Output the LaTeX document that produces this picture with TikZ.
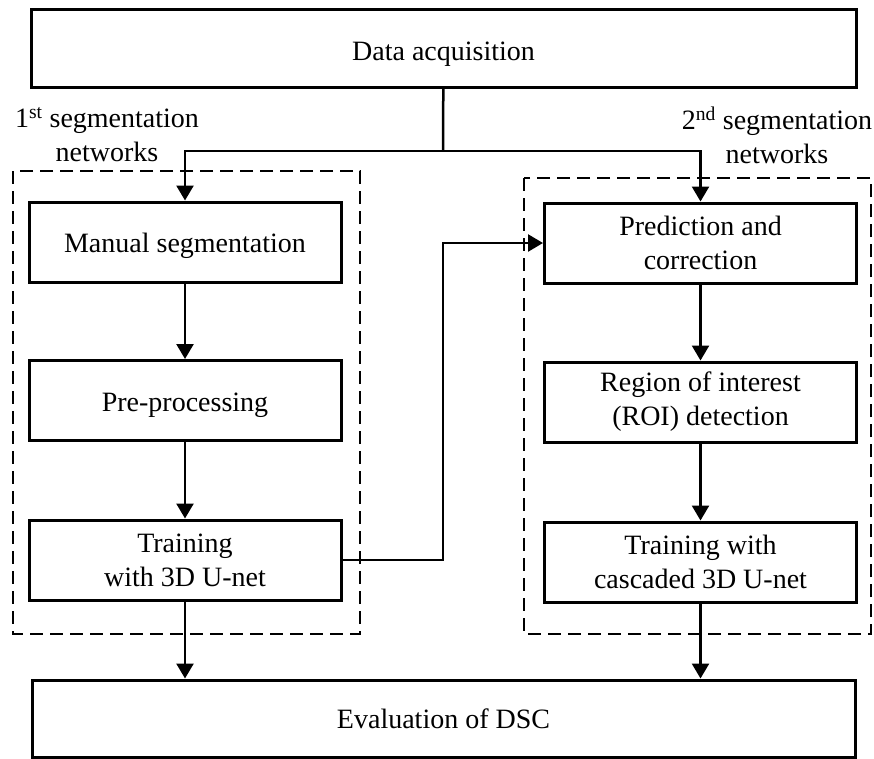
\documentclass[tikz,border=0pt]{standalone}
\usepackage{fontspec}
\setmainfont{Liberation Serif}
\usetikzlibrary{arrows.meta,positioning}

\begin{document}
\begin{tikzpicture}[x=1pt, y=-1pt, font=\fontsize{28}{34}\selectfont,
		oneline/.style={text height=27pt, text depth=6pt}]
		\useasboundingbox (0,0) rectangle (874,758);
		\clip (0,0) rectangle (874,758);
		% the two dashed groups
		\begin{scope}[line width=2.6pt, dash pattern=on 13pt off 7pt]
			\draw (13,171) rectangle (360,634);
			\draw (524,178) rectangle (871,634);
		\end{scope}
		\node (lab1) at (107,135) [align=center] {1\textsuperscript{st} segmentation\\networks};
		\node (lab2) at (777,135) [align=center] {2\textsuperscript{nd} segmentation\\networks};
		\begin{scope}[every node/.style={draw, rectangle, line width=3pt, align=center, minimum width=312pt, minimum height=80pt, inner sep=2pt}]
			\node (data) at (443.5,48) [oneline, text height=31pt, minimum width=825pt, minimum height=78pt] {Data acquisition};
			\node (man) at (185,242) [oneline] {Manual segmentation};
			\node (pre) at (185,400.5) [oneline] {Pre-processing};
			\node (train) at (185,560) {Training\\with 3D U-net};
			\node (pred) at (700.5,243) {Prediction and\\correction};
			\node (roi) at (700.5,402) {Region of interest\\(ROI) detection};
			\node (casc) at (700.5,562) {Training with\\cascaded 3D U-net};
			\node (eval) at (443.5,718.5) [oneline, text height=26pt, minimum width=823pt, minimum height=77pt] {Evaluation of DSC};
		\end{scope}
		\coordinate (split) at (443,151);
		\coordinate (back) at (443,243);
		\begin{scope}[every path/.style={line width=2.5pt, -{Triangle[width=17pt,length=15pt]}}]
			\draw[-] (data) -- (split);
			\draw (split) -| (man);
			\draw (split) -| (pred);
			\draw (train) -| (back) -- (pred);
			\path (man)
				edge (pre);
			\path (pre)
				edge (train);
			\path (pred)
				edge (roi);
			\path (roi)
				edge (casc);
			\draw (train) -- (train |- eval.north);
			\draw (casc) -- (casc |- eval.north);
		\end{scope}
	\end{tikzpicture}
\end{document}
